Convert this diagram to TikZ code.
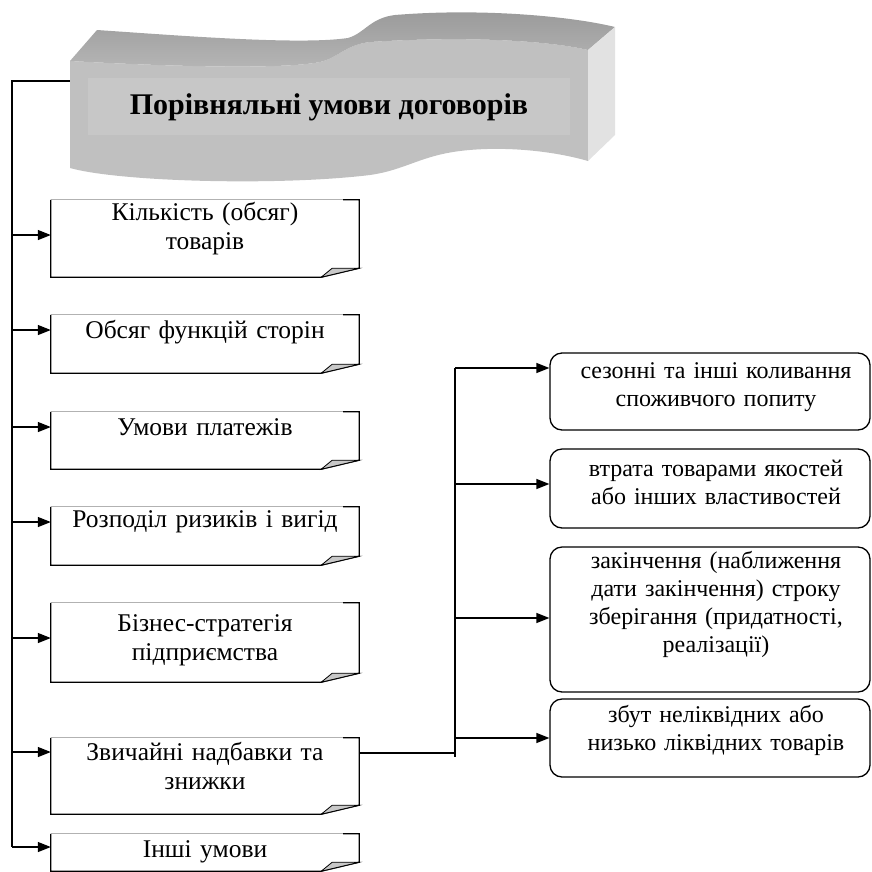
\documentclass[tikz,border=0pt]{standalone}
\usepackage{fontspec}
\setmainfont{Liberation Serif}
\usetikzlibrary{arrows.meta,calc}
\definecolor{frontgray}{HTML}{C0C0C0}
\definecolor{innergray}{HTML}{C7C7C7}
\definecolor{bandtop}{HTML}{999999}
\definecolor{bandbot}{HTML}{B6B6B6}
\definecolor{sidegray}{HTML}{E2E2E2}
\definecolor{foldgray}{HTML}{C8C8C8}
\tikzset{
  conn/.style={line width=1.3pt, draw=black},
  arr/.style={conn, -{Triangle[length=13pt,width=10pt]}},
  lbox/.style={rectangle, minimum width=308pt, inner sep=0pt},
  txt/.style={font=\fontsize{25.5}{29}\selectfont, align=center, inner sep=0pt, text width=310pt},
  rtxt/.style={font=\fontsize{24}{28}\selectfont, align=center, inner sep=0pt, text width=318pt},
  rbox/.style={draw, rounded corners=12pt, line width=1.3pt, minimum width=320pt, inner sep=0pt},
}
\newcommand\mkleftbox[4]{%
  \node[lbox, minimum height={#3-#2}] (#1) at (205,{(#2+#3)/2}) {};
  \draw[gray!60, line width=0.7pt] (#1.north west) -- ($(#1.north east)+(-16,0)$);
  \draw[line width=1.3pt] ($(#1.north east)+(-16,0)$) -- (#1.north east) -- ($(#1.south east)+(0,-9)$) -- ($(#1.south east)+(-38,0)$) -- (#1.south west) -- (#1.north west);
  \filldraw[fill=foldgray, line width=0.8pt] ($(#1.south east)+(-38,0)$) -- ($(#1.south east)+(-27,-9)$) -- ($(#1.south east)+(0,-9)$) -- cycle;
}
\begin{document}
\begin{tikzpicture}[x=1pt,y=-1pt]
\useasboundingbox (0,0) rectangle (872,871);
% ---- banner ----
\fill[frontgray] (70,61) .. controls (160,66) and (280,70) .. (320,62) .. controls (338,58) and (345,45) .. (370,42) .. controls (460,36) and (545,40) .. (588,50) -- (588,161) .. controls (550,150) and (500,146) .. (460,151) .. controls (420,156) and (405,170) .. (370,175) .. controls (280,186) and (120,182) .. (70,168) -- cycle;
\shade[top color=bandtop, bottom color=bandbot] (70,61) .. controls (160,66) and (280,70) .. (320,62) .. controls (338,58) and (345,45) .. (370,42) .. controls (460,36) and (545,40) .. (588,50) -- (615,27) .. controls (570,16) and (480,8) .. (395,15) .. controls (370,18) and (365,33) .. (348,38) .. controls (300,45) and (185,36) .. (97,30) -- cycle;
\fill[sidegray] (588,50) -- (615,27) -- (615,135) -- (588,161) -- cycle;
\fill[innergray] (88,78) rectangle (570,135);
\node[minimum width=518pt, minimum height=107pt, inner sep=0pt] (banner) at (329,114) {};
\node[font=\bfseries\fontsize{30}{34}\selectfont, inner sep=0pt] (title) at (329,107) {Порівняльні умови договорів};
% ---- left boxes ----
\mkleftbox{b1}{200}{277}{}
\mkleftbox{b2}{315}{373}{}
\mkleftbox{b3}{412}{469}{}
\mkleftbox{b4}{507}{565}{}
\mkleftbox{b5}{603}{682}{}
\mkleftbox{b6}{738}{814}{}
\mkleftbox{b7}{834}{871}{}
\node[txt] (tx1) at (205,229) {Кількість (обсяг)\\товарів};
\node[txt] (tx2) at (205,332) {Обсяг функцій сторін};
\node[txt] (tx3) at (205,427) {Умови платежів};
\node[txt] (tx4) at (205,522) {Розподіл ризиків і вигід};
\node[txt] (tx5) at (205,640) {Бізнес-стратегія\\підприємства};
\node[txt] (tx6) at (205,766) {Звичайні надбавки та\\знижки};
\node[txt] (tx7) at (205,852) {Інші умови};
% ---- trunk ----
\coordinate (tTop) at (12,81);
\coordinate (tBot) at (12,847);
\draw[conn] (banner.west |- tTop) -- (tTop) -- (tBot);
\foreach \n/\y in {1/235,2/330,3/427,4/522,5/638,6/752,7/847}{
  \coordinate (t\n) at (12,\y);
  \draw[arr] (t\n) -- (t\n -| b\n.west);
}
% ---- right boxes ----
\node[rbox, minimum height=77pt] (r1) at (710,391.5) {};
\node[rbox, minimum height=79pt] (r2) at (710,488.5) {};
\node[rbox, minimum height=145pt] (r3) at (710,619.5) {};
\node[rbox, minimum height=78pt] (r4) at (710,738) {};
\node[rtxt] (rt1) at (716,387.5) {сезонні та інші коливання\\споживчого попиту};
\node[rtxt] (rt2) at (716,482.5) {втрата товарами якостей\\або інших властивостей};
\node[rtxt] (rt3) at (716,604) {закінчення (наближення\\дати закінчення) строку\\зберігання (придатності,\\реалізації)};
\node[rtxt] (rt4) at (716,730.5) {збут неліквідних або\\низько ліквідних товарів};
% ---- right connectors ----
\coordinate (j) at (455,753);
\draw[conn] (j -| b6.east) -- (j);
\draw[conn] (455,368) -- (455,757);
\foreach \n/\y in {1/368,2/484,3/618,4/738}{
  \coordinate (s\n) at (455,\y);
  \draw[arr] (s\n) -- (s\n -| r\n.west);
}
\end{tikzpicture}
\end{document}
